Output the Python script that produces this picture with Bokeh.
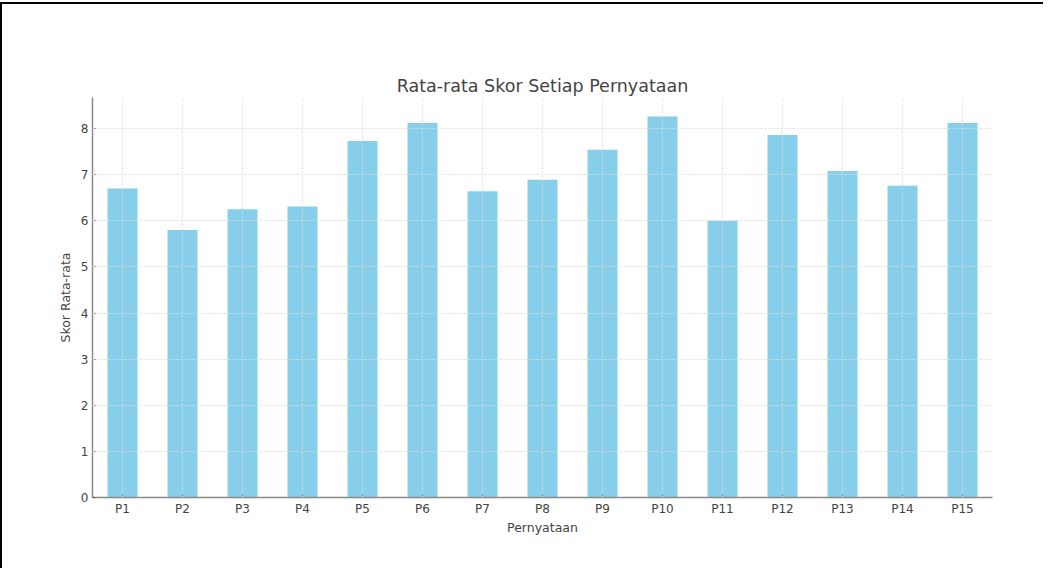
from bokeh.plotting import figure
from bokeh.models import FixedTicker, Range1d, FactorRange
from bokeh.embed import file_html
from bokeh.resources import INLINE

categories = ["P1", "P2", "P3", "P4", "P5", "P6", "P7", "P8", "P9", "P10",
              "P11", "P12", "P13", "P14", "P15"]
scores = [6.70, 5.80, 6.25, 6.31, 7.73, 8.12, 6.64, 6.89, 7.54, 8.26,
          6.00, 7.86, 7.08, 6.76, 8.12]
y_ticks = [0, 1, 2, 3, 4, 5, 6, 7, 8]

title_text = "Rata-rata Skor Setiap Pernyataan"
x_label = "Pernyataan"
y_label = "Skor Rata-rata"

FONT = "DejaVu Sans"

p = figure(
    x_range=FactorRange(*categories, range_padding=0),
    y_range=Range1d(0, max(scores) * 1.05),
    width=1043, height=566,
    output_backend="svg", toolbar_location=None,
    min_border_left=90, min_border_right=53,
    min_border_top=93, min_border_bottom=73,
    title=title_text,
)
p.styles = {"border-top": "2px solid black", "border-left": "2px solid black",
            "margin-top": "2px"}

p.vbar(x=categories, top=scores, width=0.5, color="#87CEEB", line_color=None)

p.title.align = "center"
p.title.text_font = FONT
p.title.text_font_size = "17.5px"
p.title.text_font_style = "normal"
p.title.text_color = "#444444"
p.title.standoff = 4

p.outline_line_color = None
p.background_fill_color = "white"
p.border_fill_color = "white"

for g in (p.xgrid, p.ygrid):
    g.grid_line_color = "#dcdcdc"
    g.grid_line_dash = "2 2"
    g.grid_line_width = 1
    g.level = "annotation"

p.yaxis.ticker = FixedTicker(ticks=y_ticks)

for ax in (p.xaxis, p.yaxis):
    ax.axis_line_color = "#8a8a8a"
    ax.axis_line_width = 1.5
    ax.major_tick_line_color = "#555555"
    ax.major_tick_in = 3
    ax.major_tick_out = 0
    ax.minor_tick_line_color = None
    ax.major_label_text_font = FONT
    ax.major_label_text_font_size = "12px"
    ax.major_label_text_color = "#444444"
    ax.axis_label_text_font = FONT
    ax.axis_label_text_font_size = "12.5px"
    ax.axis_label_text_font_style = "normal"
    ax.axis_label_text_color = "#444444"
    ax.major_label_standoff = 4

p.xaxis.axis_label = x_label
p.yaxis.axis_label = y_label
p.xaxis.axis_label_standoff = 1
p.yaxis.axis_label_standoff = 5

open("out.html", "w").write(file_html(p, INLINE))
